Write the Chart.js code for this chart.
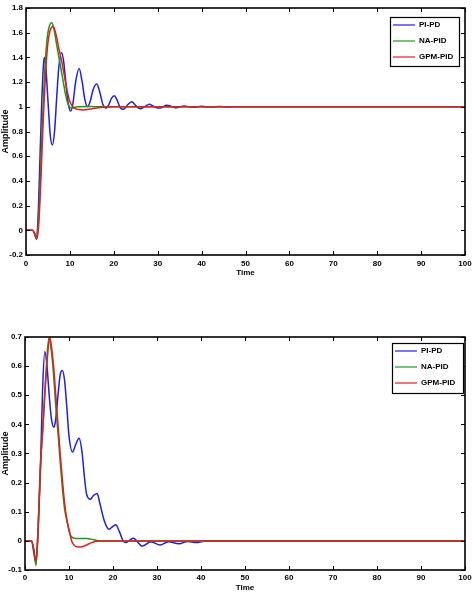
<!DOCTYPE html>
<html>
<head>
<meta charset="utf-8">
<script src="https://cdn.jsdelivr.net/npm/chart.js@4/dist/chart.umd.min.js"></script>
<style>
    body { margin: 0; background: #fff; width: 473px; height: 601px; position: relative; overflow: hidden; }
    canvas { position: absolute; left: 0; }
    #topChart { top: 0; }
    #bottomChart { top: 300px; }
</style>
</head>
<body>
<canvas id="topChart" width="473" height="278"></canvas>
<canvas id="bottomChart" width="473" height="293"></canvas>
<script>
// Series labels
const seriesNames = ['PI-PD', 'NA-PID', 'GPM-PID'];

// Axis ticks
const timeTicks = [0, 10, 20, 30, 40, 50, 60, 70, 80, 90, 100];
const topAmpTicks = [-0.2, 0, 0.2, 0.4, 0.6, 0.8, 1, 1.2, 1.4, 1.6, 1.8];
const bottomAmpTicks = [-0.1, 0, 0.1, 0.2, 0.3, 0.4, 0.5, 0.6, 0.7];

// Top chart - PI-PD
const topPIPDTime = [0, 1.5, 2, 2.4, 2.8, 3.2, 3.6, 4, 4.2, 4.5, 5, 5.5, 6, 6.5, 7, 7.5, 8.1, 8.6, 9.2, 9.7, 10.2, 10.7, 11.3, 12.1, 12.8, 13.4, 14, 14.6, 15.3, 16.1, 16.8, 17.5, 18.2, 18.9, 19.5, 20.1, 20.8, 21.5, 22.2, 23, 24.1, 25, 26, 27, 28.1, 29, 30, 31, 32, 33, 34, 35, 36, 38, 40, 42, 44, 46, 48, 50, 100];
const topPIPD = [0, 0, -0.03, -0.07, 0.15, 0.6, 1.05, 1.35, 1.4, 1.33, 1.05, 0.78, 0.69, 0.8, 1.08, 1.33, 1.44, 1.36, 1.15, 1.01, 0.965, 1.03, 1.2, 1.31, 1.2, 1.06, 1.0, 1.04, 1.14, 1.185, 1.12, 1.02, 0.99, 1.02, 1.07, 1.09, 1.05, 0.99, 0.98, 1.01, 1.04, 1.01, 0.985, 1.0, 1.02, 1.005, 0.99, 0.995, 1.012, 1.005, 0.992, 0.998, 1.007, 0.996, 1.004, 0.998, 1.002, 0.999, 1.001, 1, 1];

// Top chart - NA-PID
const topNAPIDTime = [0, 1.5, 2, 2.4, 2.8, 3.2, 3.6, 4, 4.5, 5, 5.5, 5.85, 6.3, 7, 7.5, 8, 8.5, 9, 9.5, 10, 10.5, 11, 12, 14, 16, 100];
const topNAPID = [0, 0, -0.03, -0.07, 0.05, 0.35, 0.75, 1.1, 1.42, 1.6, 1.67, 1.68, 1.64, 1.5, 1.4, 1.3, 1.2, 1.1, 1.03, 0.995, 0.988, 0.995, 1.0, 1.003, 1.0, 1];

// Top chart - GPM-PID
const topGPMTime = [0, 1.5, 2, 2.4, 2.8, 3.2, 3.6, 4, 4.5, 5, 5.5, 6.2, 7, 7.5, 8, 8.5, 9, 9.5, 10, 10.5, 11, 12, 13, 14, 15, 17, 20, 100];
const topGPM = [0, 0, -0.03, -0.07, 0.0, 0.25, 0.6, 0.95, 1.3, 1.52, 1.62, 1.65, 1.56, 1.47, 1.39, 1.3, 1.2, 1.11, 1.04, 1.01, 0.99, 0.978, 0.975, 0.978, 0.985, 0.995, 1.0, 1];

// Bottom chart - PI-PD
const botPIPDTime = [0, 1.5, 2, 2.5, 3, 3.6, 4, 4.5, 5, 5.5, 6, 6.6, 7, 7.5, 8, 8.5, 9, 9.5, 10, 10.8, 11.5, 12.3, 13, 13.5, 14, 14.9, 15.5, 16.4, 17, 18, 19.1, 20, 20.6, 21.5, 22.3, 22.9, 24.6, 26.7, 28.6, 30.7, 32.6, 35, 37, 39, 41, 100];
const botPIPD = [0, 0, -0.04, -0.075, 0.05, 0.3, 0.52, 0.65, 0.6, 0.5, 0.42, 0.39, 0.42, 0.5, 0.57, 0.585, 0.55, 0.46, 0.36, 0.305, 0.33, 0.352, 0.3, 0.22, 0.16, 0.143, 0.155, 0.163, 0.13, 0.07, 0.04, 0.05, 0.055, 0.03, 0.0, -0.006, 0.009, -0.018, -0.003, -0.014, -0.003, -0.01, -0.002, -0.006, 0, 0];

// Bottom chart - NA-PID
const botNAPIDTime = [0, 1.5, 2, 2.5, 3, 3.6, 4, 4.5, 5, 5.4, 6, 6.5, 7, 7.5, 8, 8.5, 9, 9.5, 10, 10.5, 11, 12, 14, 15, 16, 17, 100];
const botNAPID = [0, 0, -0.03, -0.085, 0.05, 0.28, 0.38, 0.51, 0.63, 0.695, 0.65, 0.57, 0.46, 0.37, 0.27, 0.18, 0.11, 0.07, 0.035, 0.015, 0.01, 0.008, 0.008, 0.006, 0.003, 0, 0];

// Bottom chart - GPM-PID
const botGPMTime = [0, 1.5, 2, 2.5, 3, 3.6, 4, 4.5, 5, 5.6, 6, 6.5, 7, 7.5, 8, 8.5, 9, 9.5, 10, 10.5, 11, 12, 13, 14, 15, 16, 17, 100];
const botGPM = [0, 0, -0.03, -0.07, 0.04, 0.28, 0.37, 0.5, 0.61, 0.7, 0.67, 0.6, 0.5, 0.4, 0.3, 0.21, 0.13, 0.075, 0.04, 0.005, -0.012, -0.021, -0.02, -0.014, -0.007, -0.002, 0, 0];

const seriesColors = ['#1f1fe6', '#169c16', '#e81c1c'];

Chart.defaults.font.family = "'Liberation Sans', Arial, sans-serif";
Chart.defaults.font.size = 8;
Chart.defaults.font.weight = 'bold';
Chart.defaults.color = '#000';

function toPoints(times, values) {
    return times.map((t, i) => ({ x: t, y: values[i] }));
}

function formatTick(v) {
    return String(+v.toFixed(1));
}

// Box around the plot, inward tick marks and the framed legend
const frameAndLegend = {
    id: 'frameAndLegend',
    afterDatasetsDraw(chart, args, opts) {
        const { ctx, chartArea: a, scales: { x, y } } = chart;
        ctx.save();
        ctx.strokeStyle = '#000';
        ctx.lineWidth = 1;
        const len = 4;
        ctx.beginPath();
        x.ticks.forEach(t => {
            const px = Math.round(x.getPixelForValue(t.value)) + 0.5;
            ctx.moveTo(px, a.bottom); ctx.lineTo(px, a.bottom - len);
            ctx.moveTo(px, a.top); ctx.lineTo(px, a.top + len);
        });
        y.ticks.forEach(t => {
            const py = Math.round(y.getPixelForValue(t.value)) + 0.5;
            ctx.moveTo(a.left, py); ctx.lineTo(a.left + len, py);
            ctx.moveTo(a.right, py); ctx.lineTo(a.right - len, py);
        });
        ctx.stroke();

        ctx.lineWidth = 1.6;
        ctx.strokeRect(a.left, a.top, a.right - a.left, a.bottom - a.top);

        // legend
        const [bx, by, bw, bh] = opts.box;
        ctx.fillStyle = '#fff';
        ctx.fillRect(bx, by, bw, bh);
        ctx.lineWidth = 1.2;
        ctx.strokeRect(bx + 0.5, by + 0.5, bw, bh);
        ctx.font = "bold 8px 'Liberation Sans', Arial, sans-serif";
        ctx.textBaseline = 'middle';
        chart.data.datasets.forEach((ds, i) => {
            const ry = by + 8 + i * 16;
            ctx.strokeStyle = ds.borderColor;
            ctx.lineWidth = 1.2;
            ctx.beginPath();
            ctx.moveTo(bx + 3, ry); ctx.lineTo(bx + 25, ry);
            ctx.stroke();
            ctx.fillStyle = '#000';
            ctx.fillText(ds.label, bx + 29, ry);
        });
        ctx.restore();
    }
};

function buildChart(canvasId, series, yTicks, layout) {
    const ctx = document.getElementById(canvasId).getContext('2d');
    const datasets = series.map((s, i) => ({
        label: seriesNames[i],
        data: toPoints(s[0], s[1]),
        borderColor: seriesColors[i],
        borderWidth: 1.5,
        pointRadius: 0,
        fill: false,
        cubicInterpolationMode: 'monotone',
        order: series.length - i
    }));

    return new Chart(ctx, {
        type: 'line',
        data: { datasets },
        plugins: [frameAndLegend],
        options: {
            responsive: false,
            animation: false,
            events: [],
            layout: { padding: { top: layout.top, right: 8, left: 0, bottom: 0 } },
            plugins: {
                legend: { display: false },
                tooltip: { enabled: false },
                frameAndLegend: { box: layout.legend }
            },
            scales: {
                x: {
                    type: 'linear',
                    min: timeTicks[0],
                    max: timeTicks[timeTicks.length - 1],
                    afterBuildTicks: sc => { sc.ticks = timeTicks.map(v => ({ value: v })); },
                    afterFit: sc => {
                        sc.height = layout.xHeight;
                        sc.paddingLeft = 0;
                        sc.paddingRight = 0;
                    },
                    grid: { display: false, drawTicks: false },
                    border: { display: false },
                    ticks: { padding: layout.xPad, maxRotation: 0, autoSkip: false },
                    title: { display: true, text: 'Time', font: { size: 8, weight: 'bold' }, padding: 0 }
                },
                y: {
                    min: yTicks[0],
                    max: yTicks[yTicks.length - 1],
                    afterBuildTicks: sc => { sc.ticks = yTicks.map(v => ({ value: v })); },
                    afterFit: sc => {
                        sc.width = layout.left;
                        sc.paddingTop = 0;
                        sc.paddingBottom = 0;
                    },
                    grid: { display: false, drawTicks: false },
                    border: { display: false },
                    ticks: { padding: 3, callback: v => formatTick(v), autoSkip: false },
                    title: { display: true, text: 'Amplitude', font: { size: 9, weight: 'bold' }, padding: 0 }
                }
            }
        }
    });
}

buildChart('topChart',
    [[topPIPDTime, topPIPD], [topNAPIDTime, topNAPID], [topGPMTime, topGPM]],
    topAmpTicks,
    { top: 8, left: 26, xHeight: 23, xPad: 4, legend: [390, 17, 69, 49] });

buildChart('bottomChart',
    [[botPIPDTime, botPIPD], [botNAPIDTime, botNAPID], [botGPMTime, botGPM]],
    bottomAmpTicks,
    { top: 37, left: 25, xHeight: 23, xPad: 3, legend: [392, 43, 71, 50] });
</script>
</body>
</html>
